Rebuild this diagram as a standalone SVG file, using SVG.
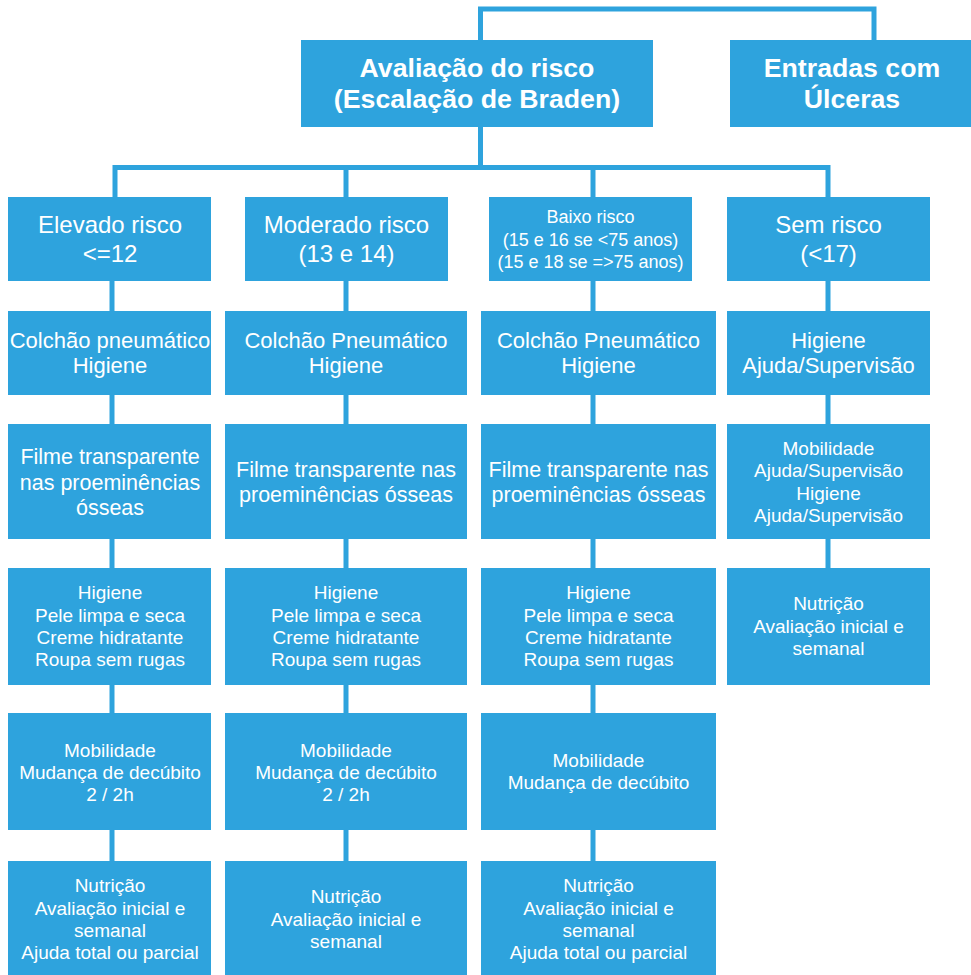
<svg xmlns="http://www.w3.org/2000/svg" width="971" height="975" viewBox="0 0 971 975">
<style>
.b{fill:#2ea3dd}
.c{fill:none;stroke:#2ea3dd;stroke-width:5}
text{font-family:"Liberation Sans",Arial,sans-serif;fill:#fff;text-anchor:middle}
.h{font-size:26.7px;font-weight:bold}
.l1{font-size:24px}
.s{font-size:18px}
.m{font-size:22px}
.f{font-size:21.5px}
.n{font-size:19px}
</style>
<rect width="971" height="975" fill="#fff"/>
<g id="connectors">
<polyline class="c" points="480.5,40 480.5,9 874,9 874,40"/>
<line class="c" x1="480.5" y1="127" x2="480.5" y2="168"/>
<polyline class="c" points="115,197 115,167.5 828,167.5 828,197"/>
<line class="c" x1="346" y1="167.5" x2="346" y2="197"/>
<line class="c" x1="593" y1="167.5" x2="593" y2="197"/>
<line class="c" x1="112" y1="281" x2="112" y2="861"/>
<line class="c" x1="346" y1="281" x2="346" y2="861"/>
<line class="c" x1="593" y1="281" x2="593" y2="861"/>
<line class="c" x1="828" y1="281" x2="828" y2="568"/>
</g>
<g id="avaliacao"><rect class="b" x="301" y="40" width="352" height="87"/><text class="h" x="477" y="77">Avaliação do risco</text><text class="h" x="477" y="108">(Escalação de Braden)</text></g>
<g id="entradas"><rect class="b" x="730" y="40" width="241" height="87"/><text class="h" x="852" y="77">Entradas com</text><text class="h" x="852" y="108">Úlceras</text></g>

<g id="elevado"><rect class="b" x="8" y="197" width="203" height="84"/><text class="l1" x="110" y="233">Elevado risco</text><text class="l1" x="110" y="262">&lt;=12</text></g>
<g id="moderado"><rect class="b" x="245" y="197" width="203" height="84"/><text class="l1" x="346.5" y="233">Moderado risco</text><text class="l1" x="346.5" y="262">(13 e 14)</text></g>
<g id="baixo"><rect class="b" x="489" y="197" width="203" height="84"/><text class="s" x="590.5" y="223">Baixo risco</text><text class="s" x="590.5" y="246">(15 e 16 se &lt;75 anos)</text><text class="s" x="590.5" y="268">(15 e 18 se =&gt;75 anos)</text></g>
<g id="sem"><rect class="b" x="727" y="197" width="203" height="84"/><text class="l1" x="828.5" y="233">Sem risco</text><text class="l1" x="828.5" y="262">(&lt;17)</text></g>

<g id="e2"><rect class="b" x="8" y="311" width="203" height="84"/><text class="m" x="110" y="348">Colchão pneumático</text><text class="m" x="110" y="373">Higiene</text></g>
<g id="m2"><rect class="b" x="225" y="311" width="242" height="84"/><text class="m" x="346" y="348">Colchão Pneumático</text><text class="m" x="346" y="373">Higiene</text></g>
<g id="b2"><rect class="b" x="481" y="311" width="235" height="84"/><text class="m" x="598.5" y="348">Colchão Pneumático</text><text class="m" x="598.5" y="373">Higiene</text></g>
<g id="s2"><rect class="b" x="727" y="311" width="203" height="84"/><text class="m" x="828.5" y="348">Higiene</text><text class="m" x="828.5" y="373">Ajuda/Supervisão</text></g>

<g id="e3"><rect class="b" x="8" y="424" width="203" height="115"/><text class="f" x="110" y="464">Filme transparente</text><text class="f" x="110" y="490">nas proeminências</text><text class="f" x="110" y="515">ósseas</text></g>
<g id="m3"><rect class="b" x="225" y="424" width="242" height="115"/><text class="f" x="346" y="477">Filme transparente nas</text><text class="f" x="346" y="502">proeminências ósseas</text></g>
<g id="b3"><rect class="b" x="481" y="424" width="235" height="115"/><text class="f" x="598.5" y="477">Filme transparente nas</text><text class="f" x="598.5" y="502">proeminências ósseas</text></g>
<g id="s3"><rect class="b" x="727" y="424" width="203" height="115"/><text class="n" x="828.5" y="455">Mobilidade</text><text class="n" x="828.5" y="477">Ajuda/Supervisão</text><text class="n" x="828.5" y="500">Higiene</text><text class="n" x="828.5" y="522">Ajuda/Supervisão</text></g>

<g id="e4"><rect class="b" x="8" y="568" width="203" height="117"/><text class="n" x="110" y="599">Higiene</text><text class="n" x="110" y="622">Pele limpa e seca</text><text class="n" x="110" y="644">Creme hidratante</text><text class="n" x="110" y="666">Roupa sem rugas</text></g>
<g id="m4"><rect class="b" x="225" y="568" width="242" height="117"/><text class="n" x="346" y="599">Higiene</text><text class="n" x="346" y="622">Pele limpa e seca</text><text class="n" x="346" y="644">Creme hidratante</text><text class="n" x="346" y="666">Roupa sem rugas</text></g>
<g id="b4"><rect class="b" x="481" y="568" width="235" height="117"/><text class="n" x="598.5" y="599">Higiene</text><text class="n" x="598.5" y="622">Pele limpa e seca</text><text class="n" x="598.5" y="644">Creme hidratante</text><text class="n" x="598.5" y="666">Roupa sem rugas</text></g>
<g id="s4"><rect class="b" x="727" y="568" width="203" height="117"/><text class="n" x="828.5" y="610">Nutrição</text><text class="n" x="828.5" y="633">Avaliação inicial e</text><text class="n" x="828.5" y="655">semanal</text></g>

<g id="e5"><rect class="b" x="8" y="713" width="203" height="117"/><text class="n" x="110" y="757">Mobilidade</text><text class="n" x="110" y="779">Mudança de decúbito</text><text class="n" x="110" y="801">2 / 2h</text></g>
<g id="m5"><rect class="b" x="225" y="713" width="242" height="117"/><text class="n" x="346" y="757">Mobilidade</text><text class="n" x="346" y="779">Mudança de decúbito</text><text class="n" x="346" y="801">2 / 2h</text></g>
<g id="b5"><rect class="b" x="481" y="713" width="235" height="117"/><text class="n" x="598.5" y="767">Mobilidade</text><text class="n" x="598.5" y="789">Mudança de decúbito</text></g>

<g id="e6"><rect class="b" x="8" y="861" width="203" height="114"/><text class="n" x="110" y="892">Nutrição</text><text class="n" x="110" y="915">Avaliação inicial e</text><text class="n" x="110" y="937">semanal</text><text class="n" x="110" y="959">Ajuda total ou parcial</text></g>
<g id="m6"><rect class="b" x="225" y="861" width="242" height="114"/><text class="n" x="346" y="903">Nutrição</text><text class="n" x="346" y="926">Avaliação inicial e</text><text class="n" x="346" y="948">semanal</text></g>
<g id="b6"><rect class="b" x="481" y="861" width="235" height="114"/><text class="n" x="598.5" y="892">Nutrição</text><text class="n" x="598.5" y="915">Avaliação inicial e</text><text class="n" x="598.5" y="937">semanal</text><text class="n" x="598.5" y="959">Ajuda total ou parcial</text></g>
</svg>
